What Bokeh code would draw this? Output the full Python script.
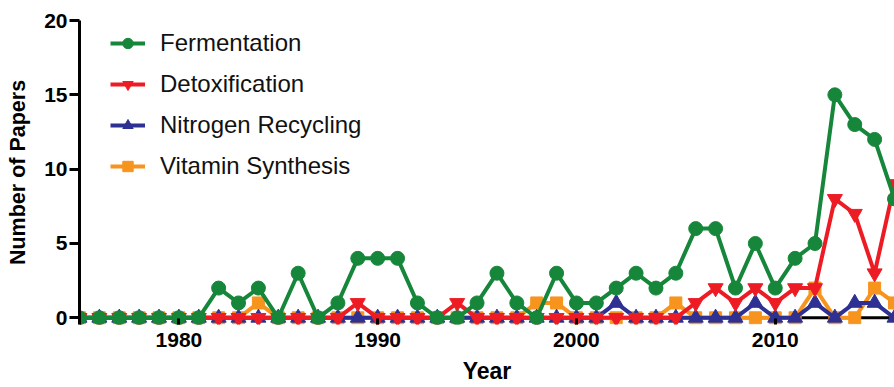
from bokeh.plotting import figure
from bokeh.models import Span, Range1d, FixedTicker, Legend, LegendItem
from bokeh.embed import file_html
from bokeh.resources import INLINE

years = list(range(1975, 2017))
fermentation = [0, 0, 0, 0, 0, 0, 0, 2, 1, 2, 0, 3, 0, 1, 4, 4, 4, 1, 0, 0, 1,
                3, 1, 0, 3, 1, 1, 2, 3, 2, 3, 6, 6, 2, 5, 2, 4, 5, 15, 13, 12, 8]
detoxification = [0, 0, 0, 0, 0, 0, 0, 0, 0, 0, 0, 0, 0, 0, 1, 0, 0, 0, 0, 1, 0,
                  0, 0, 0, 0, 0, 0, 0, 0, 0, 0, 1, 2, 1, 2, 1, 2, 2, 8, 7, 3, 9]
nitrogen = [0, 0, 0, 0, 0, 0, 0, 0, 0, 0, 0, 0, 0, 0, 0, 0, 0, 0, 0, 0, 0,
            0, 0, 0, 0, 0, 0, 1, 0, 0, 0, 0, 0, 0, 1, 0, 0, 1, 0, 1, 1, 0]
vitamin = [0, 0, 0, 0, 0, 0, 0, 0, 0, 1, 0, 0, 0, 0, 0, 0, 0, 0, 0, 0, 0,
           0, 0, 1, 1, 0, 0, 0, 0, 0, 1, 0, 0, 0, 0, 0, 0, 2, 0, 0, 2, 1]
x_ticks = [1980, 1990, 2000, 2010]
y_ticks = [0, 5, 10, 15, 20]

FONT = "Liberation Sans"

p = figure(width=894, height=387, output_backend="svg", toolbar_location=None,
           x_range=Range1d(1975, 2016.0), y_range=Range1d(-0.45, 20),
           min_border_left=79, min_border_right=0, min_border_top=20,
           min_border_bottom=63)
p.outline_line_color = None
p.grid.visible = False
p.background_fill_color = "white"

p.xaxis.ticker = FixedTicker(ticks=x_ticks)
p.yaxis.ticker = FixedTicker(ticks=y_ticks)
for ax in (p.xaxis, p.yaxis):
    ax.minor_tick_line_color = None
    ax.major_tick_line_width = 3
    ax.major_tick_line_color = "black"
    ax.major_label_text_font = FONT
    ax.major_label_text_font_style = "bold"
    ax.major_label_text_font_size = "21px"
    ax.major_label_text_color = "black"
    ax.axis_label_text_font = FONT
    ax.axis_label_text_font_style = "bold"
    ax.axis_label_text_color = "black"

p.xaxis.axis_line_color = None
p.xaxis.major_tick_in = 6
p.xaxis.major_tick_out = 0
p.xaxis.major_label_standoff = 8
p.xaxis.axis_label = "Year"
p.xaxis.axis_label_text_font_size = "23px"
p.xaxis.axis_label_standoff = 8

p.yaxis.axis_line_color = "black"
p.yaxis.axis_line_width = 3
p.yaxis.major_tick_in = 0
p.yaxis.major_tick_out = 10
p.yaxis.major_label_standoff = 2
p.yaxis.axis_label = "Number of Papers"
p.yaxis.axis_label_text_font_size = "21.5px"
p.yaxis.axis_label_standoff = 11

p.add_layout(Span(location=0, dimension="width", line_color="black",
                  line_width=3, level="underlay"))

series = [
    ("Vitamin Synthesis", vitamin, "#F7941D", "square", 12),
    ("Nitrogen Recycling", nitrogen, "#2E3192", "triangle", 15),
    ("Detoxification", detoxification, "#ED1C24", "inverted_triangle", 15),
    ("Fermentation", fermentation, "#16873A", "circle", 14),
]
items = {}
for name, vals, col, mk, sz in series:
    l = p.line(years, vals, line_color=col, line_width=4)
    s = p.scatter(years, vals, marker=mk, size=sz, fill_color=col, line_color=col)
    items[name] = [l, s]

order = ["Fermentation", "Detoxification", "Nitrogen Recycling", "Vitamin Synthesis"]
legend = Legend(items=[LegendItem(label=n, renderers=items[n]) for n in order],
                location=(31, 144), padding=0, spacing=13, glyph_width=35,
                glyph_height=26, label_height=26, label_standoff=15,
                label_text_font=FONT, label_text_font_size="24px",
                label_text_color="#111111", border_line_color=None,
                background_fill_alpha=0)
p.add_layout(legend)

open("out.html", "w").write(file_html(p, INLINE))
